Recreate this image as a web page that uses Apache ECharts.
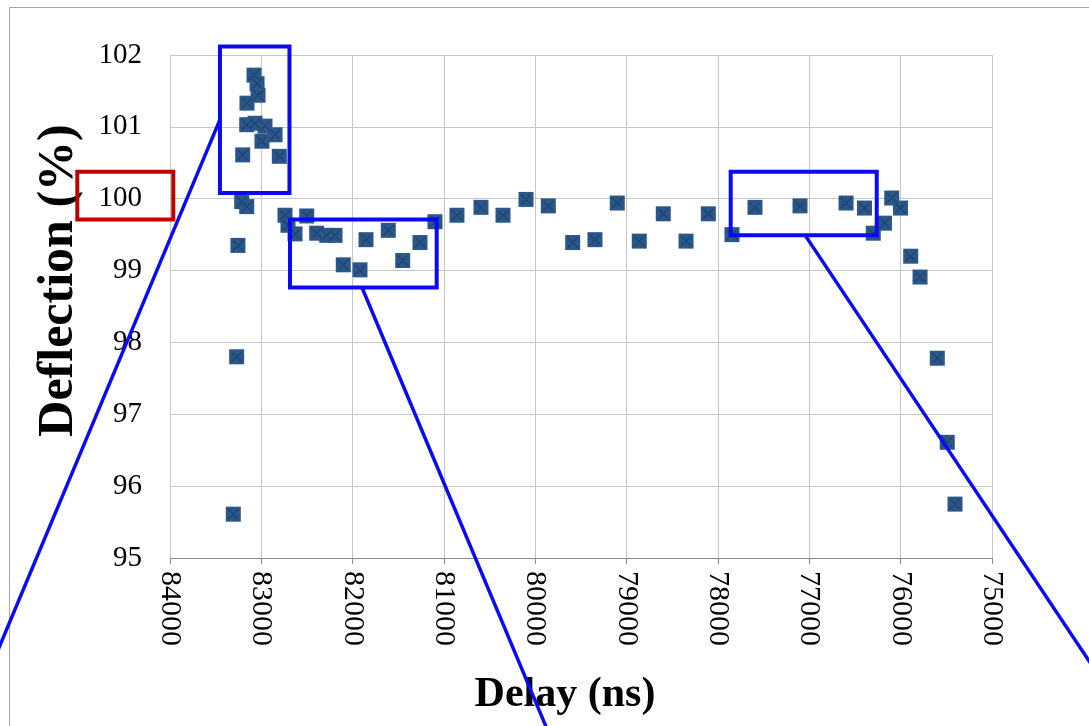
<!DOCTYPE html>
<html>
<head>
<meta charset="utf-8">
<style>
  html, body { margin: 0; padding: 0; background: #ffffff; }
  #chart { width: 1089px; height: 726px; }
</style>
<script src="https://cdn.jsdelivr.net/npm/echarts@6/dist/echarts.min.js"></script>
</head>
<body>
<div id="chart"></div>
<script>
// Measured delay (ns) and normalised deflection (%)
const delayNs = [
  83307, 83270, 83256, 83215, 83160, 83204, 83160, 83157, 83080, 83047,
  83036, 83069, 82960, 82850, 82993, 82803, 82741, 82708, 82631, 82503,
  82394, 82284, 82193, 82103, 81920, 81854, 81610, 81452, 81263, 81099,
  80858, 80595, 80354, 80102, 79858, 79591, 79347, 79103, 78862, 78599,
  78350, 78106, 77847, 77595, 77102, 76598, 76396, 76300, 76177, 76098,
  76002, 75890, 75788, 75599, 75490, 75405
];
const deflectionPct = [
  95.61, 97.80, 99.35, 99.96, 99.89, 100.61, 101.03, 101.33, 101.72, 101.60,
  101.44, 101.05, 101.01, 100.89, 100.80, 100.59, 99.77, 99.63, 99.51, 99.76,
  99.52, 99.49, 99.49, 99.08, 99.01, 99.43, 99.56, 99.14, 99.39, 99.68,
  99.77, 99.88, 99.77, 99.99, 99.90, 99.39, 99.43, 99.94, 99.41, 99.79,
  99.41, 99.79, 99.50, 99.88, 99.90, 99.94, 99.87, 99.52, 99.66, 100.01,
  99.87, 99.20, 98.91, 97.78, 96.61, 95.75
];

// Axis settings
const xTicks = { min: 75000, max: 84000, step: 1000 };
const yTicks = { min: 95, max: 102, step: 1 };

// Highlight boxes in data space: [xFrom, yTop, xTo, yBottom]
const zoomBoxes = [
  [83453, 102.12, 82692, 100.08],
  [82686, 99.712, 81080, 98.765],
  [77861, 100.375, 76262, 99.493]
];
// Leader lines from each box running off the page: [x1, y1, x2, y2]
const leaderLines = [
  [83453, 101.10, 86234, 92.654],
  [81898, 98.765, 79883, 92.654],
  [77047, 99.493, 73817, 93.337]
];
// Box around the 100 % tick label
const labelBox = [85015, 100.375, 83964, 99.712];

const points = delayNs.map((d, i) => [d, deflectionPct[i]]);

const chart = echarts.init(document.getElementById('chart'), null, { renderer: 'canvas' });

const serif = '"Liberation Serif", "Times New Roman", serif';

chart.setOption({
  backgroundColor: '#ffffff',
  animation: false,
  grid: { left: 170, right: 97, top: 55, bottom: 168, containLabel: false, outerBoundsMode: 'none' },
  xAxis: {
    type: 'value',
    inverse: true,
    min: xTicks.min,
    max: xTicks.max,
    interval: xTicks.step,
    name: 'Delay (ns)',
    nameLocation: 'middle',
    nameGap: 116,
    nameTextStyle: { fontFamily: serif, fontWeight: 'bold', fontSize: 42, color: '#000', padding: [0, 32, 0, 0] },
    axisLine: { show: true, lineStyle: { color: '#8c8c8c', width: 1 } },
    axisTick: { show: true, length: 6, lineStyle: { color: '#8c8c8c' } },
    axisLabel: {
      rotate: -90,
      margin: 13,
      fontFamily: serif,
      fontSize: 30,
      color: '#000',
      formatter: v => String(v)
    },
    splitLine: { show: true, lineStyle: { color: '#c6c6c6', width: 1 } }
  },
  yAxis: {
    type: 'value',
    min: yTicks.min,
    max: yTicks.max,
    interval: yTicks.step,
    name: 'Deflection (%)',
    nameLocation: 'middle',
    nameGap: 86,
    nameRotate: 90,
    nameTextStyle: { fontFamily: serif, fontWeight: 'bold', fontSize: 50, color: '#000', padding: [0, 0, 0, 52] },
    axisLine: { show: true, lineStyle: { color: '#c6c6c6', width: 1 } },
    axisTick: { show: false },
    axisLabel: { margin: 28, fontFamily: serif, fontSize: 29, color: '#000' },
    splitLine: { show: true, lineStyle: { color: '#c6c6c6', width: 1 } }
  },
  series: [
    {
      type: 'scatter',
      data: points,
      symbol: 'rect',
      symbolSize: 15,
      itemStyle: { color: '#2b5688', opacity: 1 },
      z: 3
    },
    {
      type: 'scatter',
      data: points,
      symbol: 'path://M0,0L10,10M10,0L0,10',
      symbolSize: 10,
      silent: true,
      itemStyle: { color: 'rgba(0,0,0,0)', borderColor: '#1c416d', borderWidth: 1.3 },
      z: 4
    }
  ]
});

// Annotation overlay placed through the grid's coordinate system
function toPx(x, y) { return chart.convertToPixel({ gridIndex: 0 }, [x, y]); }

function boxShape(b) {
  const p1 = toPx(b[0], b[1]);
  const p2 = toPx(b[2], b[3]);
  return { x: Math.min(p1[0], p2[0]), y: Math.min(p1[1], p2[1]),
           width: Math.abs(p2[0] - p1[0]), height: Math.abs(p2[1] - p1[1]) };
}

const graphics = [];
zoomBoxes.forEach(b => {
  graphics.push({
    type: 'rect',
    shape: boxShape(b),
    style: { fill: 'none', stroke: '#0a0af5', lineWidth: 4 },
    z: 100
  });
});
leaderLines.forEach(l => {
  const p1 = toPx(l[0], l[1]);
  const p2 = toPx(l[2], l[3]);
  graphics.push({
    type: 'line',
    shape: { x1: p1[0], y1: p1[1], x2: p2[0], y2: p2[1] },
    style: { stroke: '#0a0af5', lineWidth: 3.5 },
    z: 100
  });
});
graphics.push({
  type: 'rect',
  shape: boxShape(labelBox),
  style: { fill: 'none', stroke: '#c00000', lineWidth: 4 },
  z: 100
});
// Outer frame of the figure
graphics.push({
  type: 'rect',
  shape: { x: 9.5, y: 7.5, width: 1200, height: 1000 },
  style: { fill: 'none', stroke: '#a6a6a6', lineWidth: 1 },
  z: 90
});

chart.setOption({ graphic: graphics });
</script>
</body>
</html>
